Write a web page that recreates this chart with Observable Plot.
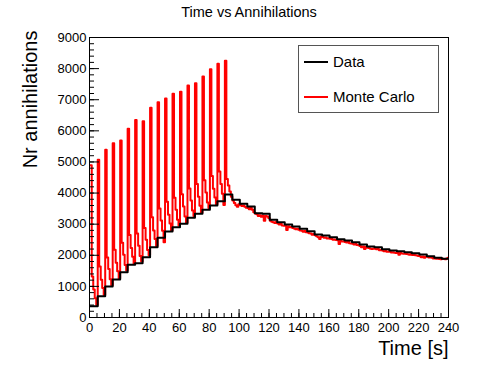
<!DOCTYPE html>
<html><head><meta charset="utf-8">
<script src="https://cdn.jsdelivr.net/npm/d3@7"></script>
<script src="https://cdn.jsdelivr.net/npm/@observablehq/plot@0.6"></script>
<style>
body{margin:0;background:#fff;}
#wrap{position:relative;width:498px;height:374px;font-family:"Liberation Sans",Arial,Helvetica,sans-serif;}
#legend{position:absolute;left:298px;top:45px;width:139px;height:66px;border:1px solid #555;background:#fff;}
.item{position:absolute;left:5px;height:20px;display:flex;align-items:center;font-size:15px;color:#000;}
.sw{width:24px;height:0;border-top:2px solid;margin-right:5px;}
</style></head>
<body><div id="wrap"></div>
<script>
const title = "Time vs Annihilations";
const xLabel = "Time [s]";
const yLabel = "Nr annihilations";
const seriesNames = ["Data", "Monte Carlo"];
const seriesColors = ["#000000", "#ff0000"];
const xTicks = [0,20,40,60,80,100,120,140,160,180,200,220,240];
const xMinorTicks = d3.range(0, 241, 5);
const yTicks = [0,1000,2000,3000,4000,5000,6000,7000,8000,9000];
const yMinorTicks = d3.range(0, 9001, 200);
const binOffset = 0.5;      // first bin edge after t=0
const dataBinWidth = 5;     // s
const mcBinWidth = 1;       // s

// Data: 5 s bins
const dataValues = [360,685,996,1221,1457,1693,1746,1939,2260,2561,
  2764,2903,3011,3204,3333,3462,3600,3738,3954,3783,
  3654,3568,3354,3333,3140,3064,2989,2925,2851,2774,
  2668,2636,2581,2517,2475,2420,2346,2282,2260,2195,
  2154,2131,2099,2067,2025,1970,1919,1887];

// Monte Carlo: 1 s bins
const mcValues = [
 4890,1320,900,620,400, 5070,1640,1210,950,720, 5390,1930,1560,1230,1040, 5600,2180,1760,1490,1250,
 5690,2400,2020,1690,1510, 6070,2650,2230,1950,1720, 6350,2700,2310,1980,1800, 6310,2880,2500,2170,2000,
 6740,3220,2800,2520,2300, 6920,3500,3120,2790,2420, 7040,3720,3300,3020,2800, 7190,3850,3460,3140,2960,
 7260,3960,3570,3250,3050, 7460,4150,3760,3440,3260, 7530,4290,3880,3590,3370, 7750,4410,4020,3700,3520,
 7980,4550,4140,3860,3640, 8160,4690,4290,3980,3620, 8250,4450,4240,4050,3880,
 3760,3680,3610,3560,3640, 3620,3580,3600,3560,3530, 3520,3480,3530,3460,3380, 3340,3320,3260,3290,3240,
 3280,3110,3260,3250,3200, 3110,3080,3060,3040,3070, 3020,2990,3010,2960,2950, 2950,2810,2930,2900,2910,
 2880,2860,2840,2850,2820, 2800,2790,2760,2780,2740, 2730,2710,2700,2660,2680, 2640,2610,2580,2520,2600,
 2590,2560,2570,2540,2550, 2530,2520,2500,2510,2490, 2480,2360,2460,2440,2450, 2430,2410,2440,2390,2380,
 2370,2350,2360,2330,2320, 2300,2260,2280,2200,2270, 2240,2230,2210,2200,2220, 2210,2190,2200,2160,2170,
 2150,2130,2140,2110,2120, 2110,2090,2100,2080,2070, 2080,2020,2070,2060,2050, 2050,2040,2030,2020,2040,
 2010,2020,2000,1990,1980, 1970,1940,1960,1920,1950, 1950,1930,1940,1920,1900, 1910,1890,1900,1880,1870,
 1890,1880,1870,1900,1920];

function stepPoints(values, width) {
  const pts = values.map((v, i) => ({t: i === 0 ? 0 : binOffset + i * width, v}));
  pts.push({t: 240, v: values[values.length - 1]});
  return pts;
}
const dataPts = stepPoints(dataValues, dataBinWidth);
const mcPts = stepPoints(mcValues, mcBinWidth);
const font = "Liberation Sans, Arial, Helvetica, sans-serif";
const blank = () => "";
const plain = d3.format("d");

const chart = Plot.plot({
  width: 498, height: 374,
  marginLeft: 89, marginRight: 50, marginTop: 37, marginBottom: 57,
  style: {fontFamily: font, background: "#fff", color: "#000"},
  x: {domain: [0, 240]},
  y: {domain: [0, 9000]},
  marks: [
    Plot.line(mcPts, {x: "t", y: "v", curve: "step-after", stroke: seriesColors[1], strokeWidth: 2, clip: true}),
    Plot.line(dataPts, {x: "t", y: "v", curve: "step-after", stroke: seriesColors[0], strokeWidth: 2, clip: true}),
    Plot.frame({stroke: "#000", strokeWidth: 1}),
    Plot.axisX(xMinorTicks, {tickSize: -4, tickFormat: blank, strokeWidth: 1, label: null}),
    Plot.axisX(xTicks, {tickSize: -8, tickFormat: blank, strokeWidth: 1, label: null}),
    Plot.axisX(xTicks, {tickSize: 0, tickPadding: 5, fontSize: 13, tickFormat: plain, label: null}),
    Plot.axisY(yMinorTicks, {tickSize: -5, tickFormat: blank, strokeWidth: 1, label: null}),
    Plot.axisY(yTicks, {tickSize: -10, tickFormat: blank, strokeWidth: 1, label: null}),
    Plot.axisY(yTicks, {tickSize: 0, tickPadding: 3, fontSize: 13, tickFormat: plain, label: null}),
    Plot.text([title], {frameAnchor: "top", lineAnchor: "middle", dx: -20, dy: -25, fontSize: 14.5, text: d => d}),
    Plot.text([xLabel], {frameAnchor: "bottom-right", lineAnchor: "middle", textAnchor: "end", dy: 31, fontSize: 20, text: d => d}),
    Plot.text([yLabel], {frameAnchor: "top-left", lineAnchor: "middle", textAnchor: "end", rotate: -90, dx: -59, dy: -7, fontSize: 20, text: d => d})
  ]
});
const wrap = document.getElementById("wrap");
wrap.appendChild(chart);
chart.style.position = "absolute"; chart.style.left = "0"; chart.style.top = "0";

const legend = document.createElement("div");
legend.id = "legend";
const tops = [5.7, 40.7];
seriesNames.forEach((name, i) => {
  const it = document.createElement("div");
  it.className = "item";
  it.style.top = tops[i] + "px";
  const sw = document.createElement("span");
  sw.className = "sw"; sw.style.borderTopColor = seriesColors[i];
  it.appendChild(sw);
  it.appendChild(document.createTextNode(name));
  legend.appendChild(it);
});
wrap.appendChild(legend);
</script>
</body></html>
